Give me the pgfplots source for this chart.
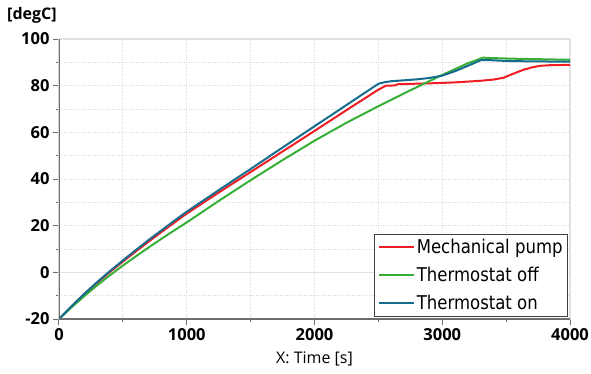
\documentclass[border=0pt]{standalone}
\usepackage{fontspec}
\setmainfont{Open Sans}
\newfontfamily\legfont{DejaVu Sans}[FakeStretch=0.87]
\usepackage{pgfplots}
\pgfplotsset{compat=1.18}
\definecolor{cRed}{RGB}{238,30,35}
\definecolor{cGreen}{RGB}{55,175,55}
\definecolor{cBlue}{RGB}{22,108,140}
\definecolor{axdark}{RGB}{110,110,110}
\definecolor{axlight}{RGB}{225,225,225}
\definecolor{gridc}{RGB}{215,215,215}
\begin{document}
\begin{tikzpicture}
\path[use as bounding box] (-59pt,-54pt) rectangle (532pt,319pt);
\begin{axis}[
  at={(0,0)}, anchor=south west,
  scale only axis, width=511pt, height=280pt,
  xmin=0, xmax=4000, ymin=-20, ymax=100,
  xtick={0,1000,2000,3000,4000},
  ytick={-20,0,20,40,60,80,100},
  minor x tick num=1, minor y tick num=1,
  xtick pos=bottom, ytick pos=left,
  tick align=outside,
  major tick length=6pt, minor tick length=3pt,
  every tick/.style={draw=axdark, line width=1pt},
  axis line style={draw=axlight, line width=1.5pt},
  grid=both,
  major grid style={draw=gridc, dotted, line width=0.8pt},
  minor grid style={draw=gridc, dotted, line width=0.8pt},
  extra y ticks={0}, extra y tick labels={},
  extra y tick style={grid=major, major grid style={draw=axlight, solid, line width=1.5pt}, major tick length=0pt},
  /pgf/number format/assume math mode=true,
  /pgf/number format/1000 sep={},
  tick label style={font=\bfseries\fontsize{16.5}{18}\selectfont, text=black},
  xlabel={X: Time [s]},
  xlabel style={at={(axis description cs:0.5,-0.143)}, anchor=center, font=\fontsize{16}{18}\selectfont},
  ylabel={[degC]},
  ylabel style={rotate=-90, at={(axis description cs:-0.053,1.086)}, anchor=center, font=\bfseries\fontsize{16}{18}\selectfont},
  legend cell align=left,
  legend style={at={(rel axis cs:1,0)}, anchor=south east, xshift=-2pt, yshift=2.5pt,
    draw=black!75, line width=0.8pt, fill=white,
    font=\legfont\fontsize{19}{22}\selectfont, inner sep=3pt, row sep=8pt},
  legend image code/.code={\draw[#1, line width=2pt] (0pt,0pt) -- (35pt,0pt);},
]
\addplot[cRed, line width=2pt] coordinates {
(0,-20) (100,-14.5) (200,-9.3) (300,-4.4) (400,0.2) (500,4.6) (600,8.9) (700,13.1) (800,17.2) (900,21.2)
(1000,25.2) (1250,34.2) (1500,43.0) (1750,51.8) (2000,60.6) (2250,69.5) (2500,78.3)
(2560,80.0) (2630,80.1) (2650,80.6) (2700,80.7) (2900,81.0) (3100,81.4) (3300,82.1)
(3400,82.6) (3480,83.4) (3550,85.0) (3635,86.8) (3700,87.8) (3765,88.5) (3850,88.8) (4000,88.9)
};
\addlegendentry{Mechanical pump}
\addplot[cGreen, line width=2pt] coordinates {
(0,-20) (100,-14.9) (200,-10.1) (300,-5.5) (400,-1.2) (500,2.9) (600,6.8) (700,10.6) (800,14.3) (900,17.9)
(1000,21.4) (1250,30.6)
(1500,39.5) (1750,48.1) (2000,56.4) (2250,64.1) (2500,71.2) (2750,78.0) (3000,84.6)
(3100,87.1) (3200,89.6) (3320,92.0) (3400,91.8) (3600,91.5) (4000,91.1)
};
\addlegendentry{Thermostat off}
\addplot[cBlue, line width=2pt] coordinates {
(0,-20) (100,-14.4) (200,-9.1) (300,-4.1) (400,0.6) (500,5.1) (600,9.5) (700,13.8)
(800,17.9) (900,22.0) (1000,26.0) (1250,35.2) (1500,44.3) (1750,53.5) (2000,62.6)
(2250,71.7) (2500,80.8) (2550,81.5) (2600,81.9) (2700,82.3) (2800,82.7) (2900,83.3)
(3000,84.3) (3100,86.2) (3200,88.5) (3300,90.9) (3350,91.0) (3500,90.6) (3700,90.4) (4000,90.3)
};
\addlegendentry{Thermostat on}
\draw[axdark, line width=1.5pt] (rel axis cs:0,1) -- (rel axis cs:0,0) -- (rel axis cs:1,0);
\end{axis}
\end{tikzpicture}
\end{document}
